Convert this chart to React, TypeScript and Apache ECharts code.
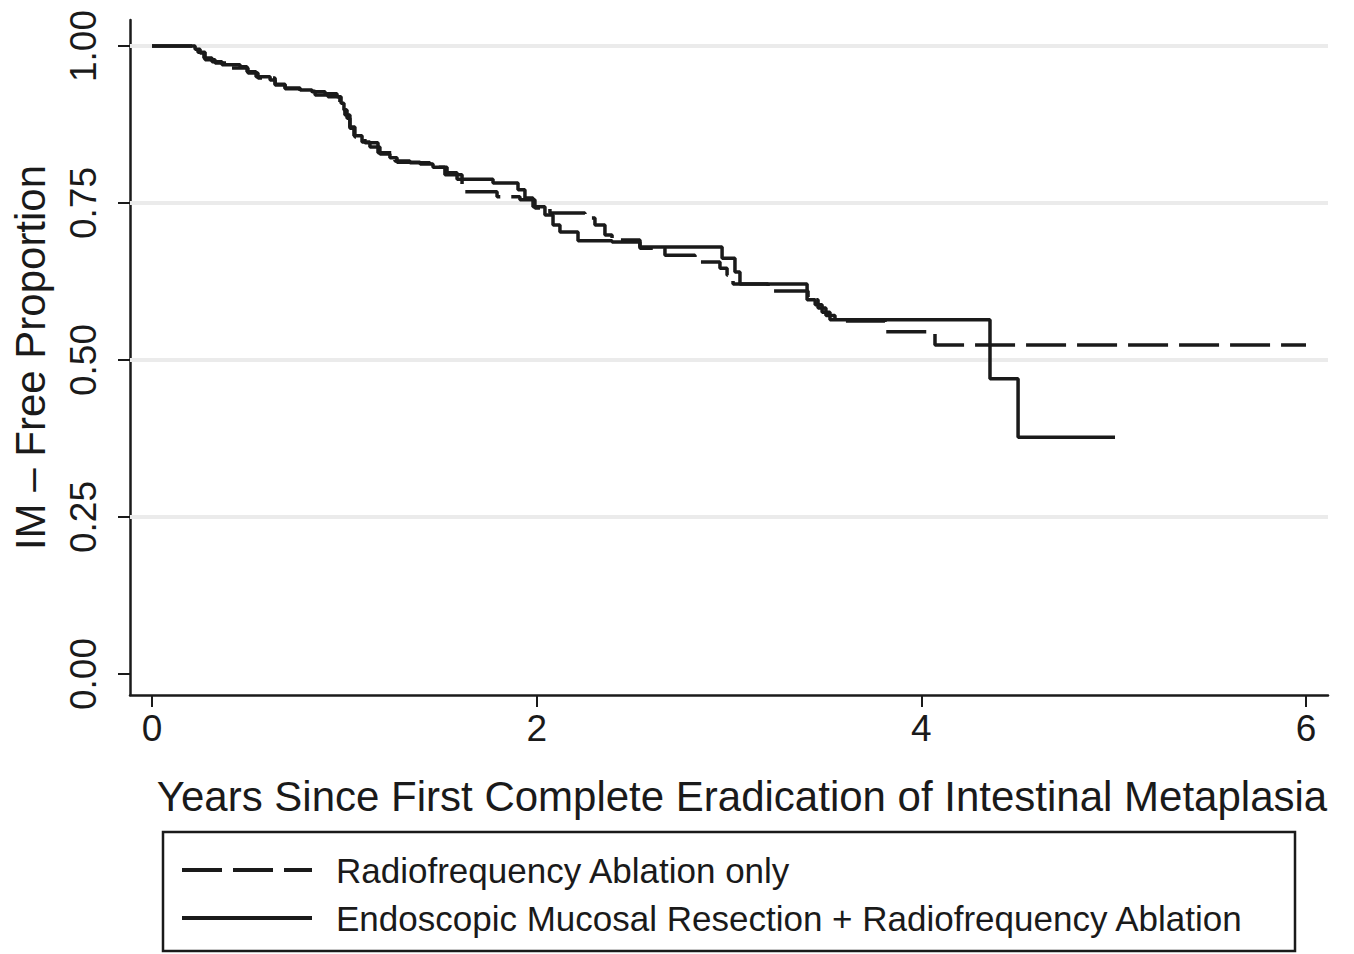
import React, { useEffect, useRef } from "react";
import * as echarts from "echarts";

// Kaplan-Meier curves (time in years, IM-free proportion)
const rfaTimes = [0, 0.213, 0.239, 0.276, 0.328, 0.395, 0.499, 0.551, 0.64, 0.692, 0.77, 0.848, 0.915, 0.977, 1.003, 1.029, 1.055, 1.107, 1.175, 1.263, 1.341, 1.445, 1.523, 1.612, 1.794, 1.913, 1.991, 2.069, 2.251, 2.303, 2.355, 2.392, 2.537, 2.667, 2.823, 2.953, 2.99, 3.021, 3.203, 3.411, 3.463, 3.504, 3.551, 3.811, 4.071, 6.0];
const rfaValues = [1.0, 0.997, 0.99, 0.978, 0.973, 0.965, 0.957, 0.949, 0.939, 0.932, 0.928, 0.922, 0.919, 0.908, 0.89, 0.871, 0.855, 0.846, 0.83, 0.817, 0.814, 0.807, 0.795, 0.768, 0.76, 0.755, 0.742, 0.734, 0.726, 0.715, 0.699, 0.691, 0.678, 0.667, 0.656, 0.646, 0.635, 0.621, 0.61, 0.596, 0.583, 0.571, 0.562, 0.545, 0.524, 0.524];

const emrTimes = [0, 0.224, 0.25, 0.27, 0.312, 0.364, 0.458, 0.494, 0.541, 0.614, 0.64, 0.692, 0.77, 0.832, 0.9, 0.962, 0.983, 0.998, 1.014, 1.029, 1.05, 1.092, 1.133, 1.185, 1.237, 1.274, 1.394, 1.461, 1.534, 1.586, 1.773, 1.903, 1.939, 1.981, 2.043, 2.085, 2.121, 2.215, 2.392, 2.537, 2.964, 3.031, 3.057, 3.406, 3.448, 3.484, 3.525, 4.357, 4.503, 5.007];
const emrValues = [1.0, 0.995, 0.989, 0.981, 0.975, 0.97, 0.967, 0.959, 0.951, 0.946, 0.938, 0.933, 0.93, 0.927, 0.924, 0.919, 0.909, 0.898, 0.885, 0.869, 0.857, 0.847, 0.839, 0.828, 0.822, 0.815, 0.812, 0.807, 0.798, 0.788, 0.782, 0.771, 0.758, 0.744, 0.731, 0.715, 0.704, 0.69, 0.688, 0.68, 0.662, 0.64, 0.621, 0.596, 0.588, 0.576, 0.564, 0.47, 0.377, 0.377];

const xTicks = [0, 2, 4, 6];
const yTicks = [0, 0.25, 0.5, 0.75, 1];
const gridValues = [0.25, 0.5, 0.75, 1];
const seriesNames = ["Radiofrequency Ablation only", "Endoscopic Mucosal Resection + Radiofrequency Ablation"];

const FONT = "'Liberation Sans', Arial, Helvetica, sans-serif";
const INK = "#1a1a1a";

export default function App() {
  const ref = useRef<HTMLDivElement>(null);
  useEffect(() => {
    document.body.style.margin = "0";
    if (!ref.current) return;
    const chart = echarts.init(ref.current, null, { renderer: "svg" });
    const pair = (ts: number[], vs: number[]) => ts.map((t, i) => [t, vs[i]]);
    chart.setOption({
      animation: false,
      backgroundColor: "#ffffff",
      grid: { left: 130, right: 26, top: 20, bottom: 259, containLabel: false, outerBoundsMode: "none" },
      xAxis: {
        type: "value",
        min: -0.1144,
        max: 6.1144,
        name: "Years Since First Complete Eradication of Intestinal Metaplasia",
        nameLocation: "middle",
        nameGap: 80,
        nameTextStyle: { fontFamily: FONT, fontSize: 42, color: INK, padding: [0, 0, 0, 26] },
        axisLine: { show: true, onZero: false, lineStyle: { color: INK, width: 2.5 } },
        axisTick: { show: true, length: 12, lineStyle: { color: INK, width: 2 }, customValues: xTicks },
        axisLabel: { fontFamily: FONT, fontSize: 37, color: INK, margin: 15, customValues: xTicks, formatter: (v: number) => String(v) },
        splitLine: { show: false },
      },
      yAxis: {
        type: "value",
        min: -0.0334,
        max: 1.0414,
        name: "IM \u2013 Free Proportion",
        nameLocation: "middle",
        nameRotate: 90,
        nameGap: 79,
        nameTextStyle: { fontFamily: FONT, fontSize: 42, color: INK },
        axisLine: { show: true, onZero: false, lineStyle: { color: INK, width: 2.5 } },
        axisTick: { show: true, length: 12, lineStyle: { color: INK, width: 2 }, customValues: yTicks },
        axisLabel: { fontFamily: FONT, fontSize: 37, color: INK, margin: 28, rotate: 90, customValues: yTicks, formatter: (v: number) => v.toFixed(2) },
        splitLine: { show: false },
      },
      series: [
        {
          name: seriesNames[0],
          type: "line",
          step: "end",
          data: pair(rfaTimes, rfaValues),
          showSymbol: false,
          symbol: "none",
          z: 3,
          lineStyle: { color: INK, width: 3.5, type: [40, 11] },
          markLine: {
            silent: true,
            z: 1,
            symbol: "none",
            label: { show: false },
            lineStyle: { color: "#ebebeb", width: 4, type: "solid" },
            data: gridValues.map((v) => ({ yAxis: v })),
          },
        },
        {
          name: seriesNames[1],
          type: "line",
          step: "end",
          data: pair(emrTimes, emrValues),
          showSymbol: false,
          symbol: "none",
          z: 4,
          lineStyle: { color: INK, width: 3.5, type: "solid" },
        },
      ],
      graphic: [
        { type: "rect", shape: { x: 163, y: 832, width: 1132, height: 119 }, style: { fill: "#ffffff", stroke: INK, lineWidth: 2.5 } },
        { type: "line", shape: { x1: 182, y1: 870, x2: 312, y2: 870 }, style: { stroke: INK, lineWidth: 4, lineDash: [40, 11] } },
        { type: "text", x: 336, y: 870, style: { text: seriesNames[0], font: `35px ${FONT}`, fill: INK, verticalAlign: "middle", align: "left" } },
        { type: "line", shape: { x1: 182, y1: 918, x2: 312, y2: 918 }, style: { stroke: INK, lineWidth: 4 } },
        { type: "text", x: 336, y: 918, style: { text: seriesNames[1], font: `35px ${FONT}`, fill: INK, verticalAlign: "middle", align: "left" } },
      ],
    });
    return () => chart.dispose();
  }, []);
  return <div ref={ref} style={{ width: 1354, height: 954 }} />;
}
